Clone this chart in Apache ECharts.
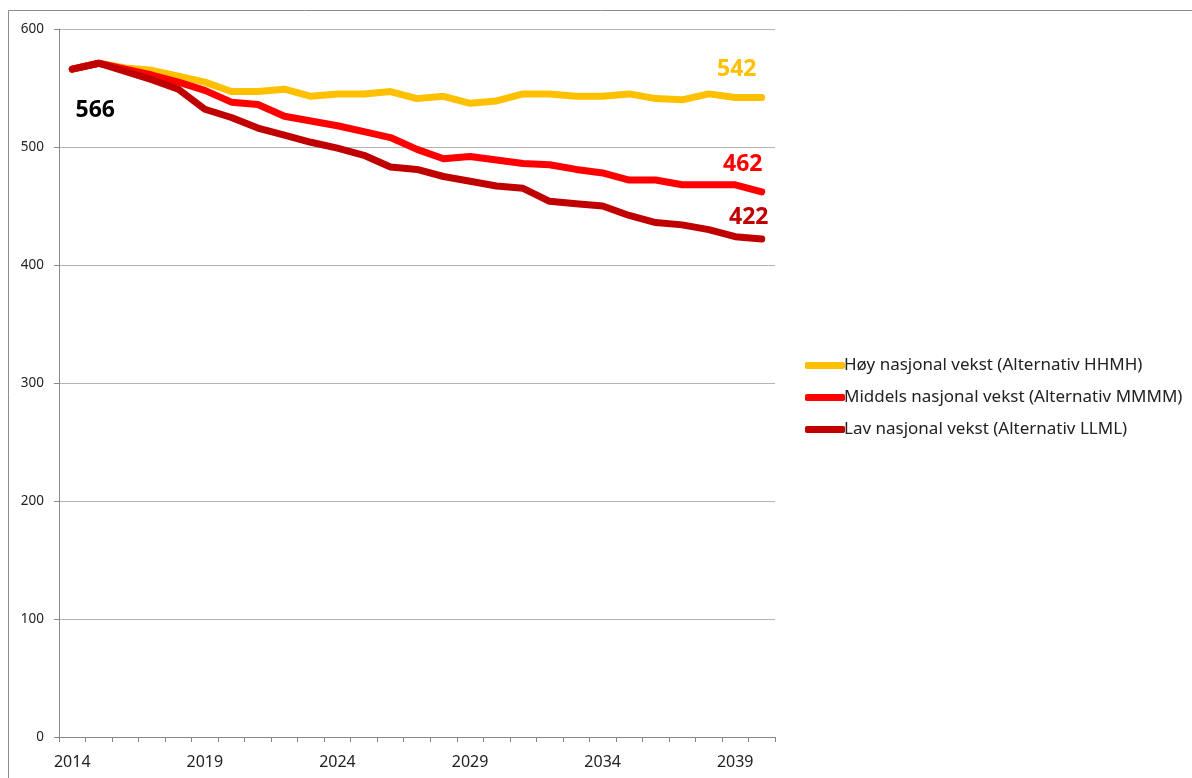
<!DOCTYPE html>
<html>
<head>
<meta charset="utf-8">
<script src="https://cdn.jsdelivr.net/npm/echarts@6/dist/echarts.min.js"></script>
<style>
html,body{margin:0;padding:0;background:#fff;}
#chart{width:1192px;height:778px;}
</style>
</head>
<body>
<div id="chart"></div>
<script>
const years = [2014,2015,2016,2017,2018,2019,2020,2021,2022,2023,2024,2025,2026,2027,2028,2029,2030,2031,2032,2033,2034,2035,2036,2037,2038,2039,2040];
const hoy = [566,571,567,565,560,555,547,547,549,543,545,545,547,541,543,537,539,545,545,543,543,545,541,540,545,542,542];
const middels = [566,571,566,561,555,548,538,536,526,522,518,513,508,498,490,492,489,486,485,481,478,472,472,468,468,468,462];
const lav = [566,571,564,557,549,532,525,516,510,504,499,493,483,481,475,471,467,465,454,452,450,442,436,434,430,424,422];
const seriesNames = ['Høy nasjonal vekst (Alternativ HHMH)','Middels nasjonal vekst (Alternativ MMMM)','Lav nasjonal vekst (Alternativ LLML)'];
const colors = ['#FFC000','#FF0000','#C00000'];
const yTicks = [0,100,200,300,400,500,600];

const FONT = 'Noto Sans';
function withLabel(arr, idx, color, offset){
  return arr.map((v,i)=> i===idx ? {
    value: (typeof v === 'object') ? v.value : v,
    label: {show:true, formatter: String((typeof v === 'object') ? v.value : v), color: color, fontSize: 23, fontWeight:'bold', fontFamily: FONT, offset: offset, position:'inside'}
  } : v);
}
function lineSeries(i, data){
  return {name:seriesNames[i], type:'line', data:data, color:colors[i],
    showSymbol:true, symbol:'circle', symbolSize:0.01, itemStyle:{color:colors[i], opacity:1},
    label:{show:false},
    lineStyle:{width:7, color:colors[i], cap:'round', join:'round'}};
}
const last = years.length - 1;
const chart = echarts.init(document.getElementById('chart'));
chart.setOption({
  animation:false,
  backgroundColor:'#fff',
  graphic:[{type:'rect', shape:{x:8.5,y:10.5,width:1250,height:900}, style:{fill:'none', stroke:'#8c8c8c', lineWidth:1}, silent:true, z:-1}],
  grid:{left:59, right:417, top:29, bottom:41},
  legend:{
    orient:'vertical', left:800, top:352, itemGap:15, itemWidth:40, itemHeight:7,
    data: seriesNames.map((n,i)=>({name:n, icon:'roundRect', itemStyle:{color:colors[i]}})),
    textStyle:{fontFamily:FONT, fontSize:17, color:'#222', padding:[0,0,0,-6]}
  },
  xAxis:{
    type:'category', data: years.map(String), boundaryGap:true,
    axisLine:{lineStyle:{color:'#888'}},
    axisTick:{show:true, interval:0, length:5, lineStyle:{color:'#888'}},
    axisLabel:{interval:4, color:'#222', fontFamily:FONT, fontSize:16, margin:17}
  },
  yAxis:{
    type:'value', min:yTicks[0], max:yTicks[yTicks.length-1], interval:100,
    axisLine:{show:true, lineStyle:{color:'#888'}},
    axisTick:{show:true, length:5, lineStyle:{color:'#888'}},
    splitLine:{lineStyle:{color:'#b4b4b4'}},
    axisLabel:{color:'#222', fontFamily:FONT, fontSize:13.5, margin:15}
  },
  series:[
    lineSeries(0, withLabel(hoy, last, colors[0], [-25,-28])),
    lineSeries(1, withLabel(middels, last, colors[1], [-19,-27])),
    lineSeries(2, withLabel(withLabel(lav, last, colors[2], [-13,-22]), 0, '#000', [23,41]))
  ]
});
</script>
</body>
</html>
